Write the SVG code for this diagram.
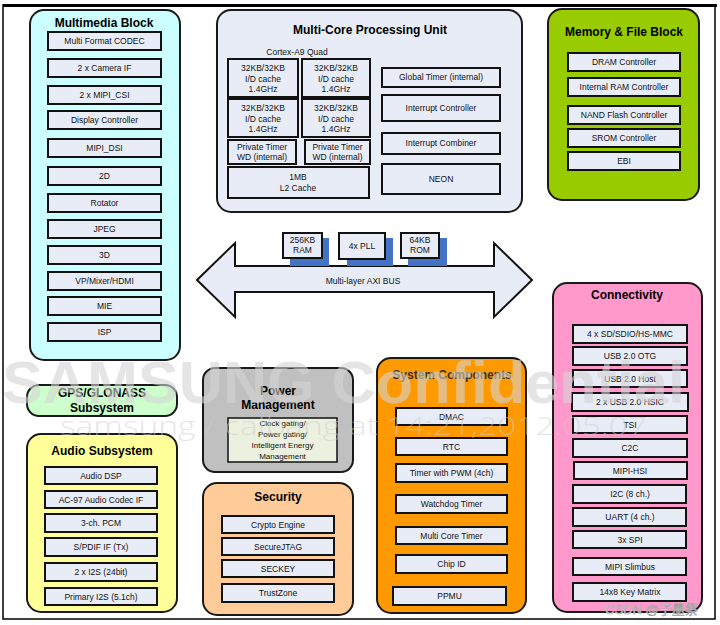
<svg xmlns="http://www.w3.org/2000/svg" width="720" height="625" viewBox="0 0 720 625">
<style>
.blk{stroke:#1a1a1a;stroke-width:2}
.it{fill:#E8ECF7;stroke:#111;stroke-width:2}
.t{font-family:"Liberation Sans",Arial,sans-serif;font-size:8.5px;fill:#111;text-anchor:middle}
.h{font-family:"Liberation Sans",Arial,sans-serif;font-size:12px;font-weight:bold;fill:#000;text-anchor:middle}
.sh{fill:#4472C4}
</style>
<rect width="720" height="625" fill="#fff"/>
<rect x="3" y="5" width="712" height="614" fill="none" stroke="#000" stroke-width="1.5"/>
<line x1="3" y1="5.5" x2="717" y2="5.5" stroke="#000" stroke-width="3"/>

<g id="multimedia">
<rect class="blk" x="30" y="10" width="150" height="350" rx="14" fill="#CCFFFF"/>
<text class="h" x="104" y="27">Multimedia Block</text>
<rect class="it" x="48" y="32" width="113" height="18"/><text class="t" x="104.5" y="44">Multi Format CODEC</text>
<rect class="it" x="48" y="59" width="113" height="18"/><text class="t" x="104.5" y="71">2 x Camera IF</text>
<rect class="it" x="48" y="86" width="113" height="18"/><text class="t" x="104.5" y="98">2 x MIPI_CSI</text>
<rect class="it" x="48" y="111" width="113" height="18"/><text class="t" x="104.5" y="123">Display Controller</text>
<rect class="it" x="48" y="139" width="113" height="18"/><text class="t" x="104.5" y="151">MIPI_DSI</text>
<rect class="it" x="48" y="167" width="113" height="18"/><text class="t" x="104.5" y="179">2D</text>
<rect class="it" x="48" y="194" width="113" height="18"/><text class="t" x="104.5" y="206">Rotator</text>
<rect class="it" x="48" y="220" width="113" height="18"/><text class="t" x="104.5" y="232">JPEG</text>
<rect class="it" x="48" y="246" width="113" height="18"/><text class="t" x="104.5" y="258">3D</text>
<rect class="it" x="48" y="272" width="113" height="18"/><text class="t" x="104.5" y="284">VP/Mixer/HDMI</text>
<rect class="it" x="48" y="297" width="113" height="18"/><text class="t" x="104.5" y="309">MIE</text>
<rect class="it" x="48" y="323" width="113" height="18"/><text class="t" x="104.5" y="335">ISP</text>
</g>

<g id="mcpu">
<rect class="blk" x="217" y="10" width="305" height="202" rx="14" fill="#E8ECF7"/>
<text class="h" x="370" y="34">Multi-Core Processing Unit</text>
<text class="t" x="297" y="55">Cortex-A9 Quad</text>
<rect class="it" x="228" y="59" width="70" height="38"/>
<text class="t" x="263" y="71">32KB/32KB</text><text class="t" x="263" y="82">I/D cache</text><text class="t" x="263" y="92">1.4GHz</text>
<rect class="it" x="302" y="59" width="68" height="38"/>
<text class="t" x="336" y="71">32KB/32KB</text><text class="t" x="336" y="82">I/D cache</text><text class="t" x="336" y="92">1.4GHz</text>
<rect class="it" x="228" y="99" width="70" height="38"/>
<text class="t" x="263" y="111">32KB/32KB</text><text class="t" x="263" y="122">I/D cache</text><text class="t" x="263" y="132">1.4GHz</text>
<rect class="it" x="302" y="99" width="68" height="38"/>
<text class="t" x="336" y="111">32KB/32KB</text><text class="t" x="336" y="122">I/D cache</text><text class="t" x="336" y="132">1.4GHz</text>
<rect class="it" x="228" y="140" width="68" height="24"/>
<text class="t" x="262" y="150">Private Timer</text><text class="t" x="262" y="160">WD (internal)</text>
<rect class="it" x="305" y="140" width="65" height="24"/>
<text class="t" x="337.5" y="150">Private Timer</text><text class="t" x="337.5" y="160">WD (internal)</text>
<rect class="it" x="228" y="167" width="141" height="31"/>
<text class="t" x="298" y="180">1MB</text><text class="t" x="298" y="191">L2 Cache</text>
<rect class="it" x="382" y="68" width="118" height="19"/><text class="t" x="441" y="80">Global Timer (internal)</text>
<rect class="it" x="382" y="95" width="118" height="26"/><text class="t" x="441" y="111">Interrupt Controller</text>
<rect class="it" x="382" y="133" width="118" height="21"/><text class="t" x="441" y="146">Interrupt Combiner</text>
<rect class="it" x="382" y="164" width="118" height="30"/><text class="t" x="441" y="182">NEON</text>
</g>

<g id="memory">
<rect class="blk" x="548" y="9" width="151" height="191" rx="14" fill="#99CC00"/>
<text class="h" x="624" y="36">Memory &amp; File Block</text>
<rect class="it" x="568" y="53" width="112" height="18"/><text class="t" x="624" y="65">DRAM Controller</text>
<rect class="it" x="568" y="78" width="112" height="18"/><text class="t" x="624" y="90">Internal RAM Controller</text>
<rect class="it" x="568" y="106" width="112" height="18"/><text class="t" x="624" y="118">NAND Flash Controller</text>
<rect class="it" x="568" y="129" width="112" height="18"/><text class="t" x="624" y="141">SROM Controller</text>
<rect class="it" x="568" y="152" width="112" height="18"/><text class="t" x="624" y="164">EBI</text>
</g>

<g id="connectors">
<g id="axi-bus">
<path d="M197,280 L235,243 L235,266 L494,266 L494,243 L532,280 L494,317 L494,292 L235,292 L235,317 Z" fill="#E8ECF7" stroke="#111" stroke-width="2" stroke-linejoin="miter"/>
<text class="t" x="363" y="284">Multi-layer AXI BUS</text>
</g>
</g>

<g id="ram">
<rect class="sh" x="290" y="238" width="39" height="28"/>
<rect class="it" x="283" y="233" width="39" height="25"/>
<text class="t" x="302.5" y="243">256KB</text><text class="t" x="302.5" y="253">RAM</text>
</g>
<g id="pll">
<rect class="sh" x="347" y="238" width="46" height="28"/>
<rect class="it" x="339" y="233" width="46" height="26"/>
<text class="t" x="362" y="249">4x PLL</text>
</g>
<g id="rom">
<rect class="sh" x="408" y="238" width="39" height="28"/>
<rect class="it" x="401" y="233" width="38" height="25"/>
<text class="t" x="420" y="243">64KB</text><text class="t" x="420" y="253">ROM</text>
</g>

<g id="connectivity">
<rect class="blk" x="553" y="283" width="149" height="329" rx="14" fill="#FF99CC"/>
<text class="h" x="627" y="299">Connectivity</text>
<rect class="it" x="573" y="325" width="114" height="18"/><text class="t" x="630" y="337">4 x SD/SDIO/HS-MMC</text>
<rect class="it" x="573" y="347" width="114" height="18"/><text class="t" x="630" y="359">USB 2.0 OTG</text>
<rect class="it" x="573" y="370" width="114" height="17"/><text class="t" x="630" y="381.5">USB 2.0 Host</text>
<rect class="it" x="572" y="393" width="116" height="18"/><text class="t" x="630" y="405">2 x USB 2.0 HSIC</text>
<rect class="it" x="573" y="416" width="114" height="17"/><text class="t" x="630" y="427.5">TSI</text>
<rect class="it" x="573" y="439" width="114" height="18"/><text class="t" x="630" y="451">C2C</text>
<rect class="it" x="574" y="462" width="113" height="17"/><text class="t" x="630" y="473.5">MIPI-HSI</text>
<rect class="it" x="573" y="485" width="113" height="18"/><text class="t" x="630" y="497">I2C (8 ch.)</text>
<rect class="it" x="573" y="508" width="113" height="18"/><text class="t" x="630" y="520">UART (4 ch.)</text>
<rect class="it" x="573" y="531" width="113" height="17"/><text class="t" x="630" y="542.5">3x SPI</text>
<rect class="it" x="573" y="558" width="113" height="17"/><text class="t" x="630" y="569.5">MIPI Slimbus</text>
<rect class="it" x="573" y="583" width="113" height="18"/><text class="t" x="630" y="595">14x8 Key Matrix</text>
</g>

<g id="gps">
<rect class="blk" x="27" y="385" width="150" height="31" rx="12" fill="#CCFFCC"/>
<text class="h" x="102" y="397">GPS/GLONASS</text>
<text class="h" x="102" y="412">Subsystem</text>
</g>

<g id="power">
<rect class="blk" x="203" y="368" width="150" height="104" rx="12" fill="#C0C0C0"/>
<text class="h" x="278" y="395">Power</text>
<text class="h" x="278" y="409">Management</text>
<rect x="228" y="418" width="109" height="44" fill="#EBF1DE" stroke="#111" stroke-width="1.5"/>
<text class="t" x="282.5" y="426" style="font-size:8px">Clock gating/</text>
<text class="t" x="282.5" y="437" style="font-size:8px">Power gating/</text>
<text class="t" x="282.5" y="448" style="font-size:8px">Intelligent Energy</text>
<text class="t" x="282.5" y="459" style="font-size:8px">Management</text>
</g>

<g id="audio">
<rect class="blk" x="27" y="434" width="150" height="178" rx="14" fill="#FFFF99"/>
<text class="h" x="102" y="455">Audio Subsystem</text>
<rect class="it" x="45" y="467" width="112" height="17"/><text class="t" x="101" y="478.5">Audio DSP</text>
<rect class="it" x="45" y="491" width="112" height="17"/><text class="t" x="101" y="502.5">AC-97 Audio Codec IF</text>
<rect class="it" x="45" y="514" width="112" height="18"/><text class="t" x="101" y="526">3-ch. PCM</text>
<rect class="it" x="45" y="538" width="112" height="18"/><text class="t" x="101" y="550">S/PDIF IF (Tx)</text>
<rect class="it" x="45" y="563" width="112" height="18"/><text class="t" x="101" y="575">2 x I2S (24bit)</text>
<rect class="it" x="45" y="588" width="112" height="17"/><text class="t" x="101" y="599.5">Primary I2S (5.1ch)</text>
</g>

<g id="security">
<rect class="blk" x="203" y="483" width="150" height="132" rx="14" fill="#FFCC99"/>
<text class="h" x="278" y="501">Security</text>
<rect class="it" x="222" y="516" width="112" height="17"/><text class="t" x="278" y="527.5">Crypto Engine</text>
<rect class="it" x="222" y="538" width="112" height="17"/><text class="t" x="278" y="549.5">SecureJTAG</text>
<rect class="it" x="222" y="560" width="112" height="17"/><text class="t" x="278" y="571.5">SECKEY</text>
<rect class="it" x="222" y="584" width="112" height="18"/><text class="t" x="278" y="596">TrustZone</text>
</g>

<g id="system">
<rect class="blk" x="377" y="358" width="149" height="255" rx="14" fill="#FF9900"/>
<text class="h" x="452" y="379" style="fill:#333">System Components</text>
<rect class="it" x="396" y="408" width="111" height="17"/><text class="t" x="451.5" y="419.5">DMAC</text>
<rect class="it" x="396" y="438" width="111" height="17"/><text class="t" x="451.5" y="449.5">RTC</text>
<rect class="it" x="396" y="464" width="111" height="18"/><text class="t" x="451.5" y="476">Timer with PWM (4ch)</text>
<rect class="it" x="396" y="495" width="111" height="18"/><text class="t" x="451.5" y="507">Watchdog Timer</text>
<rect class="it" x="396" y="527" width="111" height="17"/><text class="t" x="451.5" y="538.5">Multi Core Timer</text>
<rect class="it" x="396" y="555" width="111" height="18"/><text class="t" x="451.5" y="567">Chip ID</text>
<rect class="it" x="393" y="587" width="113" height="18"/><text class="t" x="449.5" y="599">PPMU</text>
</g>

<g id="watermark" style="pointer-events:none">
<text x="2" y="403" font-family="'Liberation Sans',Arial,sans-serif" font-weight="bold" font-size="60" fill="#d4d4d4" fill-opacity="0.6" textLength="683" lengthAdjust="spacingAndGlyphs">SAMSUNG Confidential</text>
<text x="60" y="435" font-family="'Open Sans','Liberation Sans',sans-serif" font-weight="300" font-size="26" fill="#cccccc" fill-opacity="0.5" textLength="587" lengthAdjust="spacingAndGlyphs">samsung / caibang at 14:21,2012.05.07</text>
<text x="605" y="614" font-family="'Liberation Sans','Noto Sans CJK SC',sans-serif" font-size="13" fill="#ffffff" fill-opacity="0.85" stroke="#9a9a9a" stroke-width="0.6">CSDN @子墨祭</text>
</g>
</svg>
